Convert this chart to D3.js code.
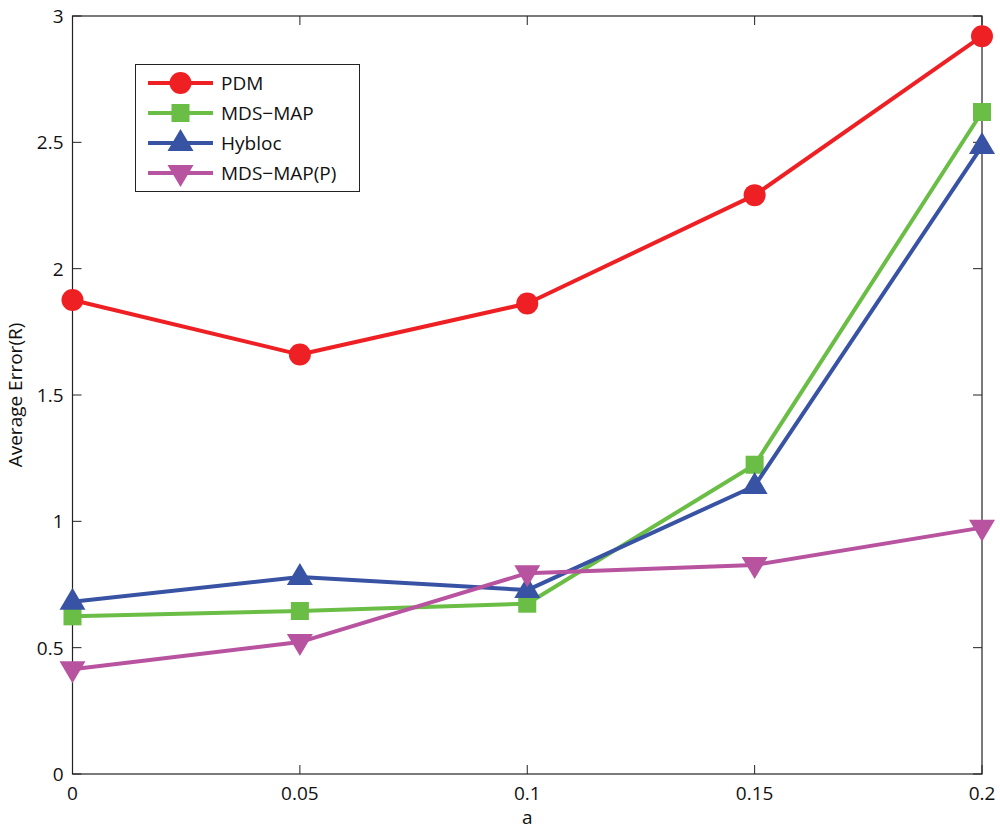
<!DOCTYPE html>
<html>
<head>
<meta charset="utf-8">
<script src="https://cdn.jsdelivr.net/npm/d3@7"></script>
<style>
  body { margin: 0; background: #fff; }
  text { font-family: "Open Sans", sans-serif; fill: #111; }
</style>
</head>
<body>
<svg id="chart" width="1000" height="830"></svg>
<script>
const xValues = [0, 0.05, 0.1, 0.15, 0.2];
const xTickLabels = ['0', '0.05', '0.1', '0.15', '0.2'];
const yTicks = [0, 0.5, 1, 1.5, 2, 2.5, 3];
const yTickLabels = ['0', '0.5', '1', '1.5', '2', '2.5', '3'];

const pdm = [1.876, 1.660, 1.862, 2.291, 2.920];
const mdsMap = [0.624, 0.645, 0.674, 1.224, 2.620];
const hybloc = [0.682, 0.780, 0.728, 1.140, 2.485];
const mdsMapP = [0.415, 0.522, 0.795, 0.827, 0.975];

const seriesNames = ['PDM', 'MDS\u2212MAP', 'Hybloc', 'MDS\u2212MAP(P)'];
const seriesColors = ['#ee2024', '#6abd45', '#3953a4', '#b853a0'];
const seriesMarkers = ['circle', 'square', 'up', 'down'];
const seriesValues = [pdm, mdsMap, hybloc, mdsMapP];

const margin = { left: 72.5, top: 16, right: 982, bottom: 774 };
const svg = d3.select('#chart');

const x = d3.scaleLinear().domain([0, 0.2]).range([margin.left, margin.right]);
const y = d3.scaleLinear().domain([0, 3]).range([margin.bottom, margin.top]);

// frame
svg.append('rect')
    .attr('x', margin.left).attr('y', margin.top)
    .attr('width', margin.right - margin.left)
    .attr('height', margin.bottom - margin.top)
    .attr('fill', 'none').attr('stroke', '#222').attr('stroke-width', 1.2);

const tickLen = 9;
const ticks = svg.append('g').attr('stroke', '#222').attr('stroke-width', 1);
xValues.forEach(v => {
    ticks.append('line').attr('x1', x(v)).attr('x2', x(v))
        .attr('y1', margin.bottom).attr('y2', margin.bottom - tickLen);
    ticks.append('line').attr('x1', x(v)).attr('x2', x(v))
        .attr('y1', margin.top).attr('y2', margin.top + tickLen);
});
yTicks.forEach(v => {
    ticks.append('line').attr('y1', y(v)).attr('y2', y(v))
        .attr('x1', margin.left).attr('x2', margin.left + tickLen);
    ticks.append('line').attr('y1', y(v)).attr('y2', y(v))
        .attr('x1', margin.right).attr('x2', margin.right - tickLen);
});

svg.append('g').selectAll('text')
    .data(xValues)
    .join('text')
    .attr('x', d => x(d))
    .attr('y', 800)
    .attr('text-anchor', 'middle')
    .attr('font-size', 19)
    .text((d, i) => xTickLabels[i]);

svg.append('g').selectAll('text')
    .data(yTicks)
    .join('text')
    .attr('x', margin.left - 9)
    .attr('y', d => y(d) + 7)
    .attr('text-anchor', 'end')
    .attr('font-size', 19)
    .text((d, i) => yTickLabels[i]);

svg.append('text')
    .attr('x', (margin.left + margin.right) / 2)
    .attr('y', 824)
    .attr('text-anchor', 'middle')
    .attr('font-size', 19)
    .text('a');

svg.append('text')
    .attr('transform', `translate(22,${(margin.top + margin.bottom) / 2}) rotate(-90)`)
    .attr('text-anchor', 'middle')
    .attr('font-size', 19)
    .text('Average Error(R)');

function marker(g, type, cx, cy, color) {
    if (type === 'circle') {
        g.append('circle').attr('cx', cx).attr('cy', cy).attr('r', 11).attr('fill', color);
    } else if (type === 'square') {
        g.append('rect').attr('x', cx - 9).attr('y', cy - 9)
            .attr('width', 18).attr('height', 18).attr('fill', color);
    } else if (type === 'up') {
        g.append('path').attr('fill', color)
            .attr('d', `M${cx},${cy - 14}L${cx + 13},${cy + 8}L${cx - 13},${cy + 8}Z`);
    } else {
        g.append('path').attr('fill', color)
            .attr('d', `M${cx},${cy + 14}L${cx + 13},${cy - 8}L${cx - 13},${cy - 8}Z`);
    }
}

const line = d3.line().x((d, i) => x(xValues[i])).y(d => y(d));

seriesValues.forEach((vals, s) => {
    const g = svg.append('g');
    g.append('path')
        .attr('d', line(vals))
        .attr('fill', 'none')
        .attr('stroke', seriesColors[s])
        .attr('stroke-width', 4)
        .attr('stroke-linejoin', 'round');
    vals.forEach((v, i) => marker(g, seriesMarkers[s], x(xValues[i]), y(v), seriesColors[s]));
});

// legend
const legend = svg.append('g');
legend.append('rect')
    .attr('x', 135.5).attr('y', 64.5).attr('width', 224).attr('height', 127)
    .attr('fill', '#fff').attr('stroke', '#222').attr('stroke-width', 1);
seriesNames.forEach((name, i) => {
    const ly = 83 + i * 30;
    legend.append('line')
        .attr('x1', 148).attr('x2', 213).attr('y1', ly).attr('y2', ly)
        .attr('stroke', seriesColors[i]).attr('stroke-width', 4);
    marker(legend, seriesMarkers[i], 180.5, ly, seriesColors[i]);
    legend.append('text')
        .attr('x', 221).attr('y', ly + 7)
        .attr('font-size', 19)
        .text(name);
});
</script>
</body>
</html>
